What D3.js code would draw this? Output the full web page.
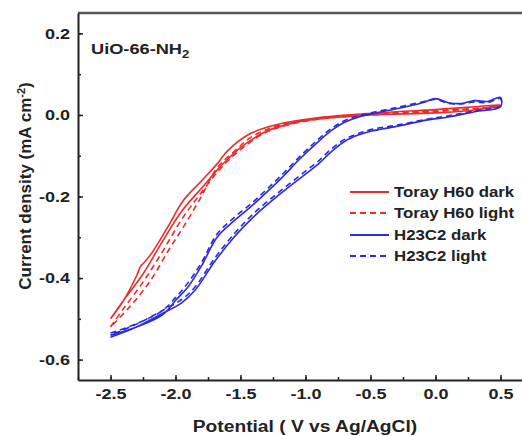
<!DOCTYPE html>
<html>
<head>
<meta charset="utf-8">
<script src="https://cdn.jsdelivr.net/npm/d3@7"></script>
<style>
  body { margin: 0; background: #fff; }
  text { font-family: "Liberation Sans", Arial, sans-serif; font-weight: bold; fill: #222; }
</style>
</head>
<body>
<div id="chart"></div>
<script>
// Toray H60 dark (red solid): forward branch then return branch
const torayDarkV = [-2.5, -2.4, -2.3, -2.27, -2.25, -2.19, -2.06, -1.94, -1.81, -1.68, -1.6, -1.42, -1.17, -0.91, -0.68, -0.3, 0.0, 0.3, 0.5,
                    0.3, 0.0, -0.5, -0.9, -1.1, -1.3, -1.5, -1.65, -1.8, -1.95, -2.1, -2.25, -2.4, -2.5];
const torayDarkI = [-0.50, -0.455, -0.395, -0.372, -0.365, -0.342, -0.275, -0.21, -0.165, -0.12, -0.088, -0.045, -0.02, -0.007, 0.0, 0.008, 0.013, 0.02, 0.025,
                    0.012, 0.005, 0.0, -0.01, -0.02, -0.04, -0.08, -0.125, -0.18, -0.235, -0.31, -0.39, -0.455, -0.50];

// Toray H60 light (red dashed)
const torayLightV = [-2.5, -2.4, -2.25, -2.1, -1.95, -1.8, -1.65, -1.5, -1.3, -1.1, -0.8, -0.4, 0.0, 0.5,
                     0.0, -0.5, -0.9, -1.2, -1.42, -1.55, -1.68, -1.81, -1.94, -2.05, -2.19, -2.35, -2.5];
const torayLightI = [-0.52, -0.475, -0.41, -0.335, -0.255, -0.19, -0.13, -0.085, -0.042, -0.022, -0.006, 0.004, 0.01, 0.02,
                     0.008, 0.0, -0.01, -0.025, -0.055, -0.09, -0.13, -0.205, -0.275, -0.33, -0.405, -0.47, -0.52];

// H23C2 dark (blue solid)
const h23DarkV = [-2.5, -2.3, -2.1, -2.0, -1.9, -1.8, -1.68, -1.55, -1.42, -1.3, -1.17, -1.05, -0.91, -0.8, -0.7, -0.6, -0.5, -0.3, -0.1, 0.0, 0.1, 0.2, 0.3, 0.4, 0.5,
                  0.5, 0.3, 0.1, -0.06, -0.3, -0.5, -0.6, -0.7, -0.8, -0.9, -1.0, -1.2, -1.4, -1.55, -1.7, -1.85, -1.95, -2.12, -2.3, -2.5];
const h23DarkI = [-0.54, -0.52, -0.49, -0.455, -0.42, -0.37, -0.30, -0.26, -0.225, -0.19, -0.15, -0.11, -0.068, -0.038, -0.018, -0.006, 0.002, 0.015, 0.03, 0.04, 0.03, 0.028, 0.035, 0.033, 0.043,
                  0.02, 0.008, -0.005, -0.012, -0.028, -0.04, -0.05, -0.065, -0.09, -0.12, -0.145, -0.195, -0.25, -0.30, -0.36, -0.43, -0.46, -0.49, -0.52, -0.545];

// H23C2 light (blue dashed)
const h23LightV = [-2.5, -2.3, -2.1, -2.0, -1.9, -1.8, -1.68, -1.55, -1.42, -1.3, -1.17, -1.05, -0.91, -0.8, -0.7, -0.6, -0.5, -0.3, -0.1, 0.0, 0.1, 0.2, 0.3, 0.4, 0.5,
                   0.5, 0.3, 0.1, -0.06, -0.3, -0.5, -0.6, -0.7, -0.8, -0.9, -1.0, -1.2, -1.4, -1.55, -1.7, -1.85, -1.95, -2.12, -2.3, -2.5];
const h23LightI = [-0.535, -0.512, -0.48, -0.448, -0.41, -0.362, -0.292, -0.252, -0.218, -0.183, -0.143, -0.104, -0.062, -0.033, -0.014, -0.003, 0.005, 0.018, 0.032, 0.038, 0.028, 0.027, 0.032, 0.03, 0.04,
                   0.022, 0.01, -0.002, -0.01, -0.025, -0.036, -0.046, -0.06, -0.083, -0.113, -0.138, -0.188, -0.242, -0.292, -0.352, -0.422, -0.452, -0.483, -0.513, -0.54];

const xTicks = [-2.5, -2.0, -1.5, -1.0, -0.5, 0.0, 0.5];
const yTicks = [-0.6, -0.4, -0.2, 0.0, 0.2];

const series = [
  { name: "Toray H60 dark",  v: torayDarkV,  i: torayDarkI,  color: "#ee2a2a", dash: null },
  { name: "Toray H60 light", v: torayLightV, i: torayLightI, color: "#ee2a2a", dash: "6,4" },
  { name: "H23C2 dark",      v: h23DarkV,    i: h23DarkI,    color: "#2a2ae0", dash: null },
  { name: "H23C2 light",     v: h23LightV,   i: h23LightI,   color: "#2a2ae0", dash: "6,4" }
];

const W = 522, H = 436;
const m = { left: 78, right: 533, top: 13, bottom: 380 };

const svg = d3.select("#chart").append("svg")
  .attr("width", W).attr("height", H);

const x = d3.scaleLinear().domain([-2.75, 0.75]).range([m.left, m.right]);
const y = d3.scaleLinear().domain([-0.65, 0.25]).range([m.bottom, m.top]);

// the source figure's lettering is a bit wider than Liberation Sans
function stretch(sel, f) {
  sel.each(function() {
    const len = this.getComputedTextLength();
    d3.select(this).attr("textLength", len * f).attr("lengthAdjust", "spacingAndGlyphs");
  });
}

// curves
const line = d3.line()
  .x(d => x(d[0])).y(d => y(d[1]))
  .curve(d3.curveCatmullRom.alpha(0.5));

series.forEach(s => {
  const pts = s.v.map((v, k) => [v, s.i[k]]);
  svg.append("path")
    .attr("d", line(pts))
    .attr("fill", "none")
    .attr("stroke", s.color)
    .attr("stroke-width", 1.6)
    .attr("stroke-dasharray", s.dash);
});

// frame top
svg.append("line").attr("x1", m.left).attr("x2", m.right).attr("y1", m.top).attr("y2", m.top)
  .attr("stroke", "#555").attr("stroke-width", 2.5);

// minor ticks
svg.append("g").attr("transform", `translate(0,${m.bottom})`)
  .call(d3.axisBottom(x).tickValues(d3.range(-2.75, 0.76, 0.25)).tickSize(-3).tickFormat(""))
  .call(g => g.select(".domain").remove())
  .call(g => g.selectAll("line").attr("stroke", "#222").attr("stroke-width", 1.5));
svg.append("g").attr("transform", `translate(${m.left},0)`)
  .call(d3.axisLeft(y).tickValues(d3.range(-0.6, 0.21, 0.1)).tickSize(-3).tickFormat(""))
  .call(g => g.select(".domain").remove())
  .call(g => g.selectAll("line").attr("stroke", "#222").attr("stroke-width", 1.5));

// major axes
const fmt = d => d3.format(".1f")(d).replace("−", "-");
const xAxis = svg.append("g").attr("transform", `translate(0,${m.bottom})`)
  .call(d3.axisBottom(x).tickValues(xTicks).tickSizeInner(-5).tickSizeOuter(0).tickPadding(8).tickFormat(fmt));
const yAxis = svg.append("g").attr("transform", `translate(${m.left},0)`)
  .call(d3.axisLeft(y).tickValues(yTicks).tickSizeInner(-5).tickSizeOuter(0).tickPadding(8).tickFormat(fmt));

[xAxis, yAxis].forEach(g => {
  g.select(".domain").attr("stroke", "#222").attr("stroke-width", 2);
  g.selectAll(".tick line").attr("stroke", "#222").attr("stroke-width", 1.5);
  g.selectAll(".tick text").style("font-size", "15px").style("fill", "#222")
    .style("font-family", "'Liberation Sans', Arial, sans-serif").style("font-weight", "bold");
});
yAxis.selectAll(".tick text").attr("x", -8);
stretch(xAxis.selectAll(".tick text"), 1.2);
stretch(yAxis.selectAll(".tick text"), 1.2);

// axis titles
const xt = svg.append("text")
  .attr("x", 305).attr("y", 432)
  .attr("text-anchor", "middle")
  .style("font-size", "16px")
  .text("Potential ( V vs Ag/AgCl)");
stretch(xt, 1.2);

const yt = svg.append("text")
  .attr("transform", "translate(31,186) rotate(-90)")
  .attr("text-anchor", "middle")
  .style("font-size", "17px");
yt.append("tspan").text("Current density (mA cm");
yt.append("tspan").attr("dy", -6).style("font-size", "11px").text("-2");
yt.append("tspan").attr("dy", 6).text(")");

// sample label
const lab = svg.append("text").attr("x", 91).attr("y", 54).style("font-size", "14px");
lab.append("tspan").text("UiO-66-NH");
lab.append("tspan").attr("dy", 4).style("font-size", "10px").text("2");
stretch(lab, 1.3);

// legend
const legY = [192, 213, 235, 256];
series.forEach((s, k) => {
  svg.append("line")
    .attr("x1", 350).attr("x2", 389)
    .attr("y1", legY[k]).attr("y2", legY[k])
    .attr("stroke", s.color).attr("stroke-width", 1.8)
    .attr("stroke-dasharray", s.dash);
  const t = svg.append("text")
    .attr("x", 394).attr("y", legY[k] + 5)
    .style("font-size", "14px")
    .text(s.name);
  stretch(t, 1.2);
});
</script>
</body>
</html>
